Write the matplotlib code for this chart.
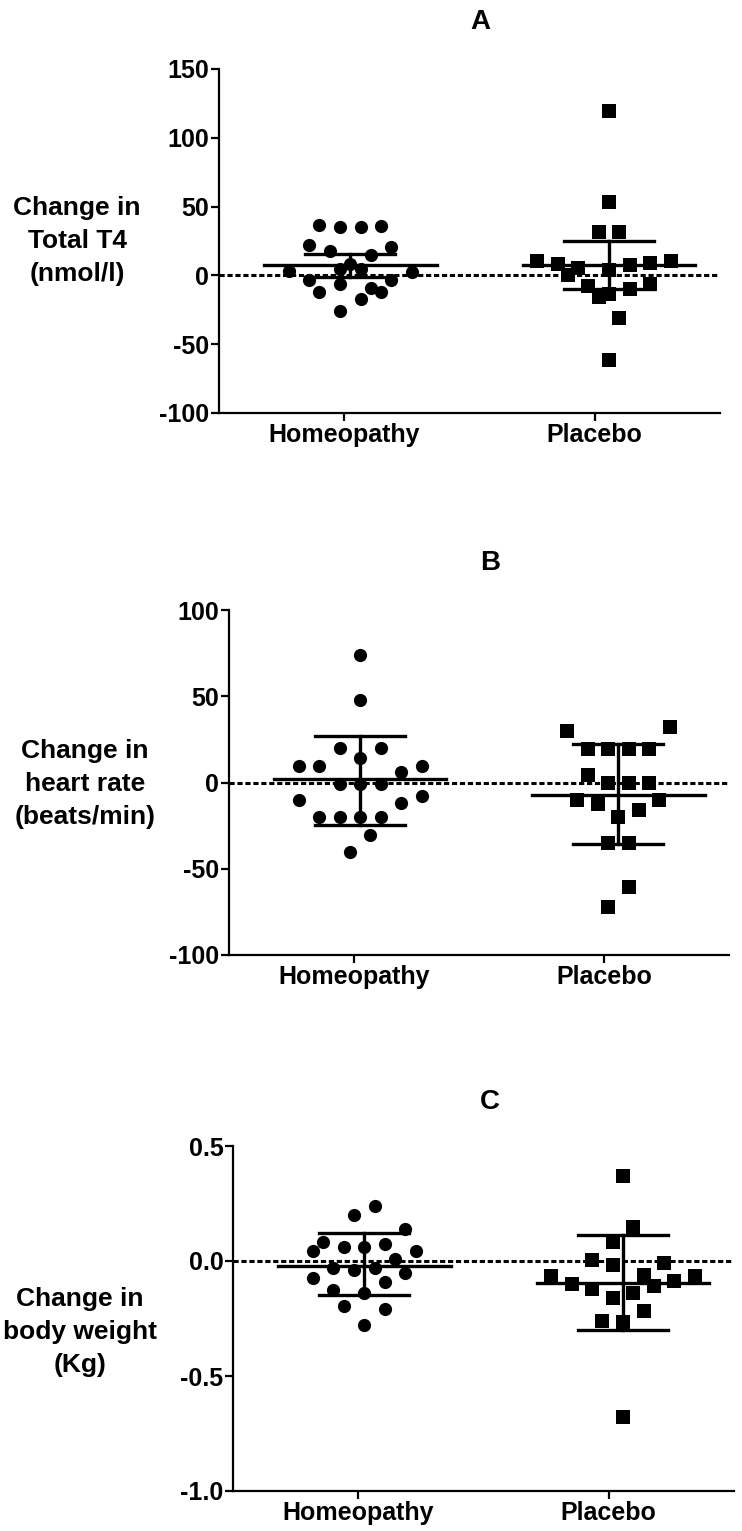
import numpy as np
import matplotlib.pyplot as plt

plt.rcParams['font.family'] = ['Liberation Sans', 'DejaVu Sans']
plt.rcParams['font.weight'] = 'bold'

groups = ['Homeopathy', 'Placebo']

# panel A: change in total T4 (nmol/l)
a_hom = [36.3, 35.1, 35.1, 35.8, 21.8, 17.9, 15.0, 20.6, 2.9, 4.4, 8.5, 4.4, 2.4,
         -3.6, -6.1, -3.6, -12.1, -9.0, -12.1, -17.0, -25.9]
a_pla = [119.4, 53.3, 31.5, 31.5, 10.4, 8.0, 5.6, 0.0, 4.1, 7.3, 9.2, 10.4,
         -8.0, -15.8, -13.8, -9.7, -6.0, -30.7, -61.8]
a_mean = [7.3, 7.7]
a_lo = [-1.2, -10.2]
a_hi = [15.8, 25.0]

# panel B: change in heart rate (beats/min)
b_hom = [74.1, 47.6, 20.0, 20.0, 14.1, 9.7, 9.7, 6.0, 9.7, -0.8, -0.8, -0.8,
         -10.0, -12.0, -8.1, -20.1, -20.1, -20.1, -20.1, -30.3, -40.0]
b_pla = [30.0, 31.9, 19.6, 19.6, 19.6, 19.6, 4.5, -0.4, -0.4, -0.4, -10.4, -12.4,
         -10.4, -16.2, -20.1, -35.2, -35.2, -60.3, -72.3]
b_mean = [2.0, -7.1]
b_lo = [-24.5, -35.6]
b_hi = [27.1, 22.3]

# panel C: change in body weight (Kg)
c_hom = [0.241, 0.202, 0.140, 0.082, 0.043, 0.062, 0.062, 0.072, 0.043, 0.007,
         -0.029, -0.040, -0.029, -0.050, -0.076, -0.091, -0.127, -0.140, -0.195,
         -0.209, -0.277]
c_pla = [0.371, 0.149, 0.084, 0.003, -0.019, -0.007, -0.065, -0.061, -0.101,
         -0.123, -0.108, -0.087, -0.065, -0.137, -0.159, -0.219, -0.260, -0.267,
         -0.679]
c_mean = [-0.022, -0.094]
c_lo = [-0.147, -0.299]
c_hi = [0.120, 0.111]

# scatter column slots (layout only)
a_hom_col = [-3, -1, 1, 3, -4, -2, 2, 4, -6, -1, 0, 1, 6, -4, -1, 4, -3, 2, 3, 1, -1]
a_pla_col = [0, 0, -1, 1, -7, -5, -3, -4, 0, 2, 4, 6, -2, -1, 0, 2, 4, 1, 0]
b_hom_col = [0, 0, -2, 2, 0, -6, -4, 4, 6, -2, 0, 2, -6, 4, 6, -4, -2, 0, 2, 1, -1]
b_pla_col = [-5, 5, -3, -1, 1, 3, -3, -1, 1, 3, -4, -2, 4, 2, 0, -1, 1, 1, -1]
c_hom_col = [1, -1, 4, -4, -5, -2, 0, 2, 5, 3, -3, -1, 1, 4, -5, 2, -3, 0, -2, 2, 0]
c_pla_col = [0, 1, -1, -3, -1, 4, -7, 2, -5, -3, 3, 5, 7, 1, -1, 2, -2, 0, 0]

W, H = 742, 1531
fig = plt.figure(figsize=(W / 100, H / 100), dpi=100)

panels = [
    dict(title='A', box=(219, 69, 501, 344), ylim=(-100, 150), yticks=[-100, -50, 0, 50, 100, 150],
         ylab='Change in\nTotal T4\n(nmol/l)', ylab_xy=(77, 241), title_xy=(480, 22),
         data=(a_hom, a_pla), cols=(a_hom_col, a_pla_col), mean=a_mean, lo=a_lo, hi=a_hi, fmt='{:.0f}'),
    dict(title='B', box=(229, 610, 500, 345), ylim=(-100, 100), yticks=[-100, -50, 0, 50, 100],
         ylab='Change in\nheart rate\n(beats/min)', ylab_xy=(85, 784), title_xy=(490, 563),
         data=(b_hom, b_pla), cols=(b_hom_col, b_pla_col), mean=b_mean, lo=b_lo, hi=b_hi, fmt='{:.0f}'),
    dict(title='C', box=(233, 1146, 501, 345), ylim=(-1.0, 0.5), yticks=[-1.0, -0.5, 0.0, 0.5],
         ylab='Change in\nbody weight\n(Kg)', ylab_xy=(80, 1332), title_xy=(490, 1102),
         data=(c_hom, c_pla), cols=(c_hom_col, c_pla_col), mean=c_mean, lo=c_lo, hi=c_hi, fmt='{:.1f}'),
]

centers = [0.024, 1.057]
slot = 0.041
markers = ['o', 's']

for p in panels:
    x0, y0, w, h = p['box']
    ax = fig.add_axes([x0 / W, 1 - (y0 + h) / H, w / W, h / H])
    ax.set_xlim(-0.5, 1.5)
    ax.set_ylim(*p['ylim'])
    ax.axhline(0, color='black', lw=2.2, ls=(0, (1.7, 0.9)), zorder=1)
    for g in range(2):
        vals = np.array(p['data'][g])
        xs = centers[g] + slot * np.array(p['cols'][g])
        ax.plot(xs, vals, ls='none', marker=markers[g], ms=9.5, mew=0,
                color='black', zorder=3)
        c = centers[g]
        ax.plot([c - 0.345, c + 0.345], [p['mean'][g]] * 2, color='black', lw=2.4, zorder=4)
        ax.plot([c, c], [p['lo'][g], p['hi'][g]], color='black', lw=2.4, zorder=4)
        for v in (p['lo'][g], p['hi'][g]):
            ax.plot([c - 0.18, c + 0.18], [v, v], color='black', lw=2.4, zorder=4)
    ax.spines['top'].set_visible(False)
    ax.spines['right'].set_visible(False)
    for s in ('left', 'bottom'):
        ax.spines[s].set_linewidth(1.6)
    ax.set_xticks([0, 1])
    ax.set_xticklabels(groups, fontsize=18, fontweight='bold')
    ax.set_yticks(p['yticks'])
    ax.set_yticklabels([p['fmt'].format(t) for t in p['yticks']],
                       fontsize=18, fontweight='bold')
    ax.tick_params(axis='both', width=1.6, length=5.5)
    ax.tick_params(axis='x', pad=2)
    ax.tick_params(axis='y', pad=1.5)
    fig.text(p['title_xy'][0] / W, 1 - p['title_xy'][1] / H, p['title'],
             ha='center', va='center', fontsize=20, fontweight='bold')
    fig.text(p['ylab_xy'][0] / W, 1 - p['ylab_xy'][1] / H, p['ylab'],
             ha='center', va='center', multialignment='center', fontsize=19,
             fontweight='bold', linespacing=1.48)

fig.savefig('out.png', dpi=100)
